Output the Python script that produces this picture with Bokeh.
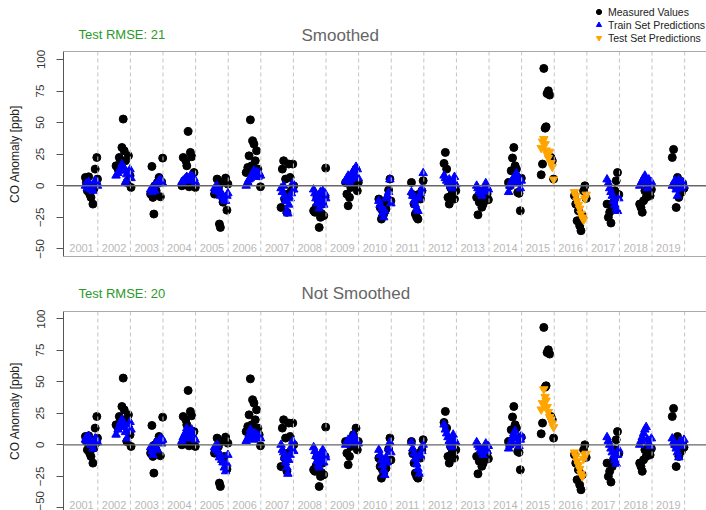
import numpy as np
from bokeh.plotting import figure
from bokeh.models import Range1d, Span, Legend, LegendItem, FixedTicker
from bokeh.layouts import column
from bokeh.embed import file_html
from bokeh.resources import INLINE
from bokeh.core.properties import value

FONT = "Liberation Sans"

years = list(range(2001, 2020))
test_years = [2015, 2016]

dates = [
    2001.62, 2001.65, 2001.68, 2001.72, 2001.75, 2001.79, 2001.85, 2001.88, 2001.92, 2001.94, 2001.97, 2001.99,
    2002.56, 2002.62, 2002.66, 2002.70, 2002.74, 2002.78, 2002.81, 2002.85, 2002.89, 2002.94, 2002.99, 2003.02,
    2003.62, 2003.66, 2003.69, 2003.72, 2003.75, 2003.79, 2003.83, 2003.88, 2003.92, 2003.96, 2003.99,
    2004.58, 2004.62, 2004.66, 2004.70, 2004.73, 2004.77, 2004.80, 2004.84, 2004.88, 2004.91, 2004.95, 2004.99,
    2005.58, 2005.62, 2005.66, 2005.70, 2005.73, 2005.76, 2005.80, 2005.84, 2005.88, 2005.92, 2005.96, 2005.99,
    2006.55, 2006.60, 2006.64, 2006.68, 2006.72, 2006.75, 2006.79, 2006.83, 2006.87, 2006.91, 2006.95, 2006.99,
    2007.62, 2007.66, 2007.70, 2007.73, 2007.76, 2007.80, 2007.83, 2007.86, 2007.90, 2007.94, 2007.98, 2008.01,
    2008.62, 2008.66, 2008.69, 2008.72, 2008.76, 2008.79, 2008.83, 2008.86, 2008.90, 2008.93, 2008.97, 2008.99,
    2009.60, 2009.64, 2009.68, 2009.72, 2009.76, 2009.80, 2009.84, 2009.88, 2009.92, 2009.96, 2009.99,
    2010.62, 2010.66, 2010.70, 2010.73, 2010.77, 2010.80, 2010.84, 2010.88, 2010.92, 2010.96, 2010.99,
    2011.62, 2011.66, 2011.70, 2011.74, 2011.78, 2011.82, 2011.86, 2011.90, 2011.94, 2011.98,
    2012.62, 2012.66, 2012.70, 2012.74, 2012.78, 2012.82, 2012.86, 2012.90, 2012.94, 2012.98,
    2013.62, 2013.66, 2013.70, 2013.74, 2013.78, 2013.82, 2013.86, 2013.90, 2013.94, 2013.98,
    2014.60, 2014.64, 2014.68, 2014.72, 2014.76, 2014.80, 2014.84, 2014.88, 2014.92, 2014.96, 2014.99,
    2015.60, 2015.64, 2015.68, 2015.72, 2015.75, 2015.78, 2015.82, 2015.86, 2015.90, 2015.94, 2015.98,
    2016.62, 2016.66, 2016.70, 2016.74, 2016.78, 2016.82, 2016.86, 2016.90, 2016.94, 2016.98,
    2017.62, 2017.66, 2017.70, 2017.74, 2017.78, 2017.82, 2017.86, 2017.90, 2017.94, 2017.98,
    2018.62, 2018.66, 2018.70, 2018.74, 2018.78, 2018.82, 2018.86, 2018.90, 2018.94, 2018.98,
    2019.62, 2019.66, 2019.70, 2019.74, 2019.78, 2019.82, 2019.86, 2019.90, 2019.94, 2019.98,
]

measured = [
    6.6, 2.6, -4.0, 7.1, -6.6, -9.2, -14.5, -2.6, 13.2, 1.3, 22.4, 5.3,
    15.8, 13.2, 22.4, 19.8, 30.3, 52.8, 27.7, 19.8, 2.6, 23.7, 7.9, -1.3,
    -6.6, 15.3, -9.2, -22.4, 0.0, -4.0, 2.6, 6.6, -8.7, 3.0, 21.9,
    0.0, 22.4, 4.0, 19.8, 15.8, 43.0, -0.8, 26.4, 23.0, 2.6, 10.5, -1.3,
    -6.6, -4.0, 5.3, -1.3, -30.3, -33.0, 2.6, -13.0, -9.2, 6.1, -19.3, 1.3,
    10.5, 14.5, 23.7, 52.2, 15.8, 35.6, 33.0, 19.8, 27.7, 13.2, 7.9, -0.8,
    -17.2, 13.2, 19.8, -10.5, 5.3, -21.0, -6.6, 17.2, 6.6, -4.0, 17.2, 0.0,
    -19.8, -21.0, -17.0, -9.2, -11.9, -33.0, -25.0, -22.0, -14.5, -23.7, -9.2, 14.0,
    2.6, -6.6, -15.8, -9.2, -1.3, 4.0, 8.0, 1.3, 13.2, -4.0, 2.6,
    -10.5, -17.2, -26.4, -19.8, -22.4, -14.5, -18.5, -13.2, -3.4, 5.3, -12.0,
    2.6, -7.0, -14.5, -22.4, -25.0, -26.4, -6.6, -10.5, -4.0, 4.0,
    17.7, 26.4, 13.2, -9.2, -14.5, -1.3, -6.6, 2.6, -10.5, -4.0,
    -9.2, -23.0, -13.0, -9.2, -17.0, -14.5, -4.0, -7.9, -6.6, -11.0,
    2.6, 0.0, 11.9, 22.0, 30.3, 15.8, 13.2, -5.3, -6.0, -19.8, 6.0,
    8.7, 17.2, 92.9, 45.6, 46.7, 73.0, 75.2, 71.8, 22.4, 19.8, 5.3,
    -7.9, -14.5, -27.7, -19.8, -31.7, -35.6, -23.7, -4.0, 0.0, -10.0,
    -14.5, -25.0, -21.0, -29.5, -17.2, -13.0, -4.0, 4.0, 10.5, -7.0,
    -14.5, -17.2, -21.0, -11.9, -4.0, -9.2, -6.6, -1.3, -8.0, -3.0,
    22.4, 28.8, 0.0, -17.2, 6.6, -9.2, -4.0, -5.3, 2.0, -2.0,
]

pred_smoothed = [
    0, 2, -2, 3, -1, -3, -4, 1, 4, 2, 3, 0,
    8, 10, 12, 14, 17, 15, 12, 3, 9, 11, 13, 6,
    -3, -5, -2, 0, -4, 1, 2, 4, 5, 3, 2,
    3, 4, 5, 6, 7, 4, 6, 8, 5, 7, 6, 3,
    -2, -4, 0, -3, -5, -8, -6, -9, -11, -12, -8, -6,
    0, 3, 5, 6, 8, 10, 12, 9, 11, 7, 10, 8,
    -2, -5, 0, -8, -12, -20, -22, -15, -10, -6, 2, -3,
    -3, -6, -10, -14, -8, -18, -5, -12, -4, -15, -6, -10,
    4, 6, 8, 3, 5, 10, 12, 7, 15, 13, 6,
    -12, -15, -18, -22, -25, -20, -10, -8, -5, 5, -14,
    -5, -8, -12, -15, -18, -20, -10, -6, -2, 10,
    8, 6, 4, 2, 5, 0, -2, 3, 7, 1,
    0, -2, -4, -6, -8, -3, -5, 2, -1, -3,
    -5, 0, 3, 5, 2, 8, 10, 6, 2, -2, 4,
    30, 35, 37, 33, 28, 25, 22, 27, 18, 15, 5,
    -5, -8, -12, -15, -18, -22, -25, -27, -10, -7,
    5, 2, -2, -5, -8, -12, -15, -18, -20, -10,
    0, 2, 4, 6, 8, 3, -2, 5, 1, 3,
    0, 2, 4, -3, -8, 5, 1, -2, 3, 0,
]

pred_not_smoothed = [
    4, 6, 3, 7, 2, 0, -3, 1, 5, 3, 4, 2,
    8, 12, 15, 18, 20, 17, 14, 10, 5, 16, 18, 12,
    -2, -5, -8, -3, 0, 2, -4, 3, 5, 1, 4,
    3, 6, 8, 10, 13, 7, 5, 11, 12, 8, 6, 4,
    -2, -4, 0, -6, -10, -8, -12, -14, -18, -21, -15, -8,
    3, 5, 8, 12, 10, 6, 4, 9, 8, 6, 7, 5,
    0, -4, -6, -10, -14, -18, -23, -12, -8, -2, 3, -5,
    -2, -5, -9, -13, -16, -18, -7, -11, -4, -14, -8, -10,
    0, 2, 4, 1, 3, 6, 8, 5, 4, 2, 1,
    -4, -8, -12, -16, -20, -24, -10, -14, -3, 2, -6,
    2, -3, -7, -11, -15, -19, -23, -9, -5, 0,
    16, 12, 9, 6, 3, 0, -2, 8, 4, 2,
    2, 0, -2, -4, -6, -8, -3, 1, -5, -1,
    -3, 0, 3, 6, 9, 11, 5, 1, -1, 4, 7,
    28, 33, 44, 38, 35, 30, 26, 22, 20, 17, 14,
    -6, -9, -13, -16, -19, -23, -25, -11, -8, -7,
    6, 3, 0, -3, -6, -9, -12, -15, -8, -4,
    0, 3, 6, 9, 12, 14, 4, 1, -1, 5,
    5, 2, 0, -3, -6, -10, 3, -1, 1, 4,
]

y_ticks = [-50, -25, 0, 25, 50, 75, 100]
titles = ["Smoothed", "Not Smoothed"]
rmse_labels = ["Test RMSE: 21", "Test RMSE: 20"]
legend_labels = ["Measured Values", "Train Set Predictions", "Test Set Predictions"]

x_arr = np.array(dates)
m_arr = np.array(measured, dtype=float)
is_test = np.isin(np.floor(x_arr).astype(int), test_years)

W = 706
HEAD_H = 49
LEFT = 63

MEAS_STYLE = dict(marker="circle", size=8, color="black")
TRAIN_STYLE = dict(marker="triangle", size=8.5, color="blue")
TEST_STYLE = dict(marker="inverted_triangle", size=8.5, color="orange")


def make_header(title, rmse, title_y, rmse_y, legend):
    # header strip: x and y in pixels of the strip
    h = figure(width=W, height=HEAD_H, x_range=Range1d(LEFT, W), y_range=Range1d(HEAD_H, 0),
               output_backend="svg", toolbar_location=None, x_axis_location=None,
               y_axis_location=None, min_border_left=LEFT, min_border_right=0,
               min_border_top=0, min_border_bottom=0)
    h.grid.visible = False
    h.outline_line_color = None
    h.text(x=[301], y=[title_y], text=[title], text_color="#666666", text_font=value(FONT),
           text_font_size="17px", text_align="left", text_baseline="middle")
    h.text(x=[78], y=[rmse_y], text=[rmse], text_color="#2a9a2a", text_font=value(FONT),
           text_font_size="13px", text_align="left", text_baseline="middle")
    if legend:
        # legend swatches take their style from these renderers (data lie outside this strip)
        r1 = h.scatter(x_arr, m_arr, **MEAS_STYLE)
        r2 = h.scatter(x_arr[~is_test], m_arr[~is_test], **TRAIN_STYLE)
        r3 = h.scatter(x_arr[is_test], m_arr[is_test], **TEST_STYLE)
        lg = Legend(items=[LegendItem(label=legend_labels[0], renderers=[r1]),
                           LegendItem(label=legend_labels[1], renderers=[r2]),
                           LegendItem(label=legend_labels[2], renderers=[r3])],
                    location=(528, 5), background_fill_alpha=0, border_line_color=None,
                    label_text_font=FONT, label_text_font_size="10.5px",
                    label_text_color="#222222", glyph_width=15, glyph_height=13,
                    label_height=12, spacing=0, padding=0, margin=0, label_standoff=2)
        h.add_layout(lg)
    return h


def make_panel(pred, height, btop, bbot, y0, y1, ylab):
    pred = np.array(pred, dtype=float)
    p = figure(width=W, height=height, x_range=Range1d(2000.948, 2020.67),
               y_range=Range1d(y0, y1), output_backend="svg", toolbar_location=None,
               x_axis_location=None, min_border_left=LEFT, min_border_right=0,
               min_border_top=btop, min_border_bottom=bbot)
    p.grid.visible = False
    p.outline_line_color = None

    ax = p.yaxis[0]
    ax.ticker = FixedTicker(ticks=y_ticks)
    ax.major_label_orientation = "vertical"
    ax.minor_tick_line_color = None
    ax.major_tick_out = 7
    ax.major_tick_in = 0
    ax.major_tick_line_color = "#555555"
    ax.axis_line_color = "#555555"
    ax.major_label_text_font = FONT
    ax.major_label_text_font_size = "11.5px"
    ax.major_label_text_color = "#333333"
    ax.major_label_standoff = 12
    ax.axis_label = "CO Anomaly [ppb]"
    ax.axis_label_text_font = FONT
    ax.axis_label_text_font_size = "12px"
    ax.axis_label_text_font_style = "normal"
    ax.axis_label_text_color = "#222222"
    ax.axis_label_standoff = 12

    # box: top and bottom edges (no right edge visible in the reference)
    p.add_layout(Span(location=y1, dimension="width", line_color="#555555", line_width=1.2))
    p.add_layout(Span(location=y0, dimension="width", line_color="#555555", line_width=1.2))

    for yr in years:
        p.add_layout(Span(location=yr + 1, dimension="height", line_color="#c4c4c4",
                          line_dash="4 3", line_width=1))
    p.add_layout(Span(location=0, dimension="width", line_color="#666666", line_width=1.3))

    p.text(x=[yr + 0.5 for yr in years], y=[ylab] * len(years), text=[str(yr) for yr in years],
           text_color="#b8b8b8", text_font=value(FONT), text_font_size="11px",
           text_align="center", text_baseline="middle")

    p.scatter(x_arr, m_arr, **MEAS_STYLE)
    p.scatter(x_arr[~is_test], pred[~is_test], **TRAIN_STYLE)
    p.scatter(x_arr[is_test], pred[is_test], **TEST_STYLE)
    return p


h1 = make_header(titles[0], rmse_labels[0], 35, 33.5, True)
p1 = make_panel(pred_smoothed, 211, 2, 4, -56.0, 106.3, -49)
h2 = make_header(titles[1], rmse_labels[1], 33.3, 33.3, False)
p2 = make_panel(pred_not_smoothed, 201, 2, 0, -52.0, 105.5, -47.5)

layout = column(h1, p1, h2, p2)
open("out.html", "w").write(file_html(layout, INLINE))
